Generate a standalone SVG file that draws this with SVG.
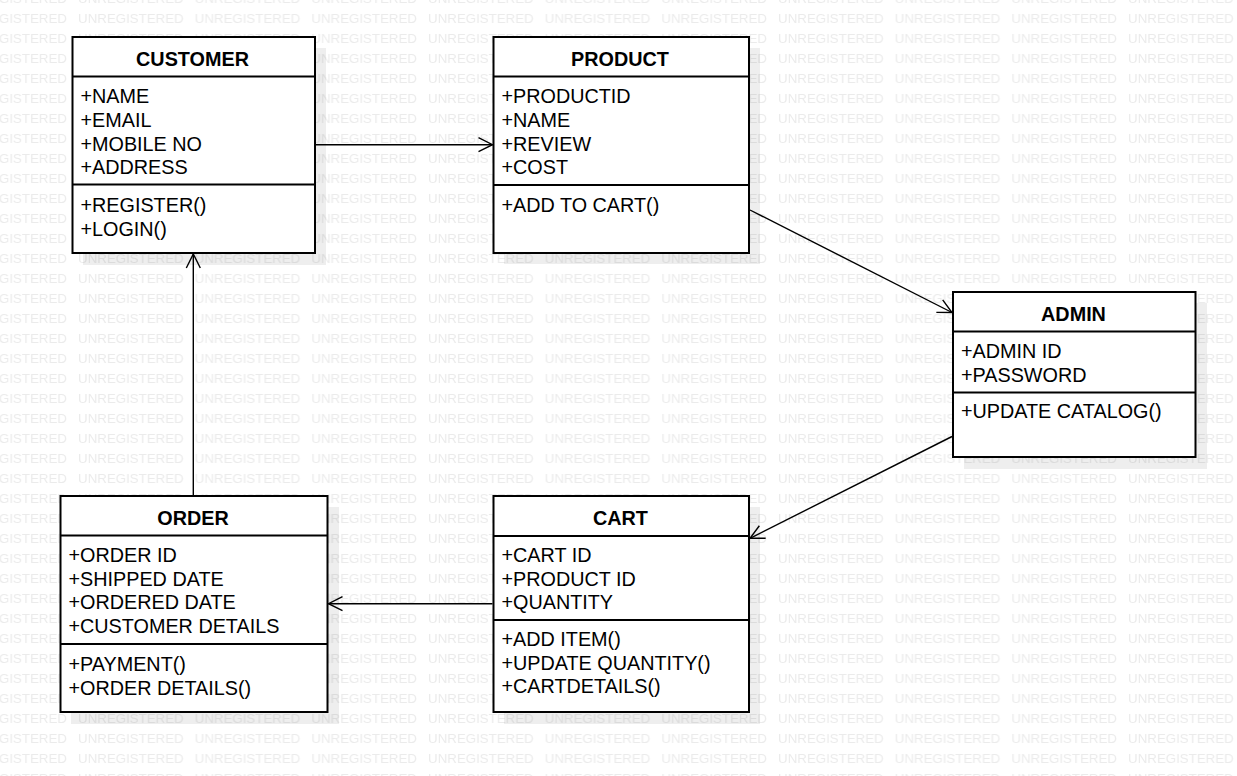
<svg xmlns="http://www.w3.org/2000/svg" width="1237" height="776" viewBox="0 0 1237 776">
<defs>
<pattern id="wm" patternUnits="userSpaceOnUse" x="78" y="3" width="116.67" height="20">
<text x="0" y="20" font-family="Liberation Sans, Arial, sans-serif" font-size="13.3" fill="#ebebeb">UNREGISTERED</text>
</pattern>
<marker id="open" markerWidth="18" markerHeight="18" refX="15" refY="8" orient="auto" markerUnits="userSpaceOnUse">
<path d="M1,1 L15,8 L1,15" fill="none" stroke="#000" stroke-width="1.4"/>
</marker>
<style>
.shadow{fill:#000;fill-opacity:0.065}
.box{fill:#fff;stroke:#000;stroke-width:2}
.div{stroke:#000;stroke-width:2}
.title{font-family:"Liberation Sans",Arial,sans-serif;font-size:19.8px;font-weight:bold;text-anchor:middle;fill:#000}
.t{font-family:"Liberation Sans",Arial,sans-serif;font-size:19.8px;fill:#000}
.conn{fill:none;stroke:#000;stroke-width:1.4;marker-end:url(#open)}
</style>
</defs>
<rect width="1237" height="776" fill="#fff"/>
<rect width="1237" height="776" fill="url(#wm)"/>

<g id="customer">
<rect class="shadow" x="83" y="48" width="243" height="217"/>
<rect class="box" x="72.5" y="37" width="242.5" height="216"/>
<line class="div" x1="72.5" y1="76.5" x2="315" y2="76.5"/>
<line class="div" x1="72.5" y1="184.5" x2="315" y2="184.5"/>
<text class="title" x="192.5" y="66">CUSTOMER</text>
<text class="t" x="80.5" y="103.3">+NAME</text>
<text class="t" x="80.5" y="127">+EMAIL</text>
<text class="t" x="80.5" y="150.6">+MOBILE NO</text>
<text class="t" x="80.5" y="174.2">+ADDRESS</text>
<text class="t" x="80.5" y="212">+REGISTER()</text>
<text class="t" x="80.5" y="235.5">+LOGIN()</text>
</g>

<g id="product">
<rect class="shadow" x="504" y="48" width="256" height="216"/>
<rect class="box" x="493.5" y="37" width="255.5" height="216"/>
<line class="div" x1="493.5" y1="76.5" x2="749" y2="76.5"/>
<line class="div" x1="493.5" y1="185" x2="749" y2="185"/>
<text class="title" x="620" y="66">PRODUCT</text>
<text class="t" x="501.5" y="103.3">+PRODUCTID</text>
<text class="t" x="501.5" y="127">+NAME</text>
<text class="t" x="501.5" y="150.6">+REVIEW</text>
<text class="t" x="501.5" y="174.2">+COST</text>
<text class="t" x="501.5" y="212">+ADD TO CART()</text>
</g>

<g id="admin">
<rect class="shadow" x="964" y="303" width="243" height="166"/>
<rect class="box" x="953" y="292" width="242.5" height="165"/>
<line class="div" x1="953" y1="331.5" x2="1195.5" y2="331.5"/>
<line class="div" x1="953" y1="392.5" x2="1195.5" y2="392.5"/>
<text class="title" x="1073.5" y="320.7">ADMIN</text>
<text class="t" x="961" y="357.7">+ADMIN ID</text>
<text class="t" x="961" y="381.5">+PASSWORD</text>
<text class="t" x="961" y="418.3">+UPDATE CATALOG()</text>
</g>

<g id="order">
<rect class="shadow" x="71" y="507" width="268" height="217"/>
<rect class="box" x="60.5" y="496" width="267" height="216"/>
<line class="div" x1="60.5" y1="535.5" x2="327.5" y2="535.5"/>
<line class="div" x1="60.5" y1="644" x2="327.5" y2="644"/>
<text class="title" x="193" y="525">ORDER</text>
<text class="t" x="68.5" y="561.7">+ORDER ID</text>
<text class="t" x="68.5" y="585.5">+SHIPPED DATE</text>
<text class="t" x="68.5" y="609.2">+ORDERED DATE</text>
<text class="t" x="68.5" y="633">+CUSTOMER DETAILS</text>
<text class="t" x="68.5" y="670.8">+PAYMENT()</text>
<text class="t" x="68.5" y="694.5">+ORDER DETAILS()</text>
</g>

<g id="cart">
<rect class="shadow" x="504" y="507" width="256" height="217"/>
<rect class="box" x="493.5" y="496" width="255.5" height="216"/>
<line class="div" x1="493.5" y1="536" x2="749" y2="536"/>
<line class="div" x1="493.5" y1="620" x2="749" y2="620"/>
<text class="title" x="620.5" y="525">CART</text>
<text class="t" x="501.5" y="561.7">+CART ID</text>
<text class="t" x="501.5" y="585.5">+PRODUCT ID</text>
<text class="t" x="501.5" y="609.2">+QUANTITY</text>
<text class="t" x="501.5" y="645.8">+ADD ITEM()</text>
<text class="t" x="501.5" y="669.6">+UPDATE QUANTITY()</text>
<text class="t" x="501.5" y="693.3">+CARTDETAILS()</text>
</g>

<g id="connectors">
<line class="conn" x1="316" y1="144.7" x2="492.5" y2="144.7"/>
<line class="conn" x1="750" y1="210" x2="952" y2="312.5"/>
<line class="conn" x1="952" y1="436.5" x2="750" y2="538.3"/>
<line class="conn" x1="492.5" y1="603.7" x2="328.5" y2="603.7"/>
<line class="conn" x1="193.3" y1="495" x2="193.3" y2="254"/>
</g>
</svg>
